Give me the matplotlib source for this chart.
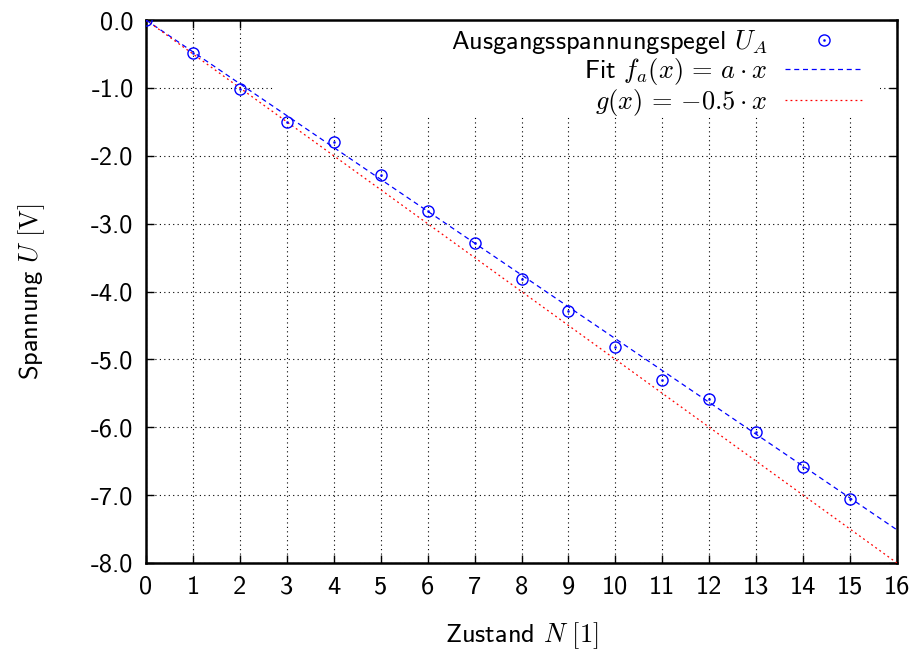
import numpy as np
import matplotlib
matplotlib.use("Agg")
import matplotlib.pyplot as plt
from matplotlib.patches import Rectangle

plt.rcParams['font.family'] = ['cmss10', 'DejaVu Sans']
plt.rcParams['mathtext.fontset'] = 'cm'
plt.rcParams['axes.unicode_minus'] = False
plt.rcParams['axes.formatter.use_mathtext'] = True

# Data
zustand = [0, 1, 2, 3, 4, 5, 6, 7, 8, 9, 10, 11, 12, 13, 14, 15]
spannung = [0.0, -0.49, -1.02, -1.50, -1.80, -2.28, -2.81, -3.28, -3.81,
            -4.29, -4.82, -5.30, -5.58, -6.07, -6.58, -7.05]
fit_a = -0.4695
g_slope = -0.5
x_range = [0, 16]
x_ticks = list(range(0, 17))
y_ticks = [0, -1, -2, -3, -4, -5, -6, -7, -8]
y_ticklabels = ["0.0", "-1.0", "-2.0", "-3.0", "-4.0", "-5.0", "-6.0", "-7.0", "-8.0"]

fs = 19
fig = plt.figure(figsize=(9.14, 6.5), dpi=100)
ax = fig.add_axes([146/914, 1-563/650, 751/914, 543/650])

xr = np.array(x_range, dtype=float)
blue = '#0000ff'
red = '#ff0000'

pts_o, = ax.plot(zustand, spannung, linestyle='none', marker='o', ms=8,
                 mfc='none', mec=blue, mew=1.0, zorder=4)
pts_d, = ax.plot(zustand, spannung, linestyle='none', marker='o', ms=1.5,
                 mfc=blue, mec=blue, mew=0.3, zorder=4)
fit_line, = ax.plot(xr, fit_a * xr, color=blue, lw=0.9, dashes=(4, 3), zorder=3)
g_line, = ax.plot(xr, g_slope * xr, color=red, lw=0.9, dashes=(1.5, 2.5), zorder=3)

ax.set_xlim(0, 16)
ax.set_ylim(-8, 0)
ax.set_xticks(x_ticks)
ax.set_xticklabels([str(t) for t in x_ticks])
ax.set_yticks(y_ticks)
ax.set_yticklabels(y_ticklabels)
ax.tick_params(direction='in', length=6, width=1.0, top=True, right=True,
               labelsize=fs, colors='black')
ax.tick_params(axis='x', pad=9)
ax.tick_params(axis='y', pad=9)
for s in ax.spines.values():
    s.set_linewidth(1.8)

ax.grid(True, color='black', linestyle=(0, (1, 3)), linewidth=0.8)
ax.set_axisbelow(True)

# key background box
ax.add_patch(Rectangle(((275-146)/751, (563-116)/543), (880-275)/751, 116/543 + 0.01,
                       transform=ax.transAxes, facecolor='white', edgecolor='none',
                       zorder=1, clip_on=False))

ax.set_xlabel(r"Zustand $N\ [1]$", fontsize=fs, labelpad=16)
ax.set_ylabel(r"Spannung $U\ [\mathrm{V}]$", fontsize=fs, labelpad=32)

leg = ax.legend([(pts_o, pts_d), fit_line, g_line],
                [r"Ausgangsspannungspegel $U_A$", r"Fit $f_a(x)\,=\,a\cdot x$",
                 r"$g(x)\,=\,{-}0.5\cdot x$"],
                loc='upper right', bbox_to_anchor=((862-146)/751, (563-28)/543),
                borderaxespad=0, borderpad=0, frameon=False, markerfirst=False,
                handlelength=2.9, handletextpad=0.68, labelspacing=0.0,
                fontsize=fs, numpoints=1)
leg.set_zorder(5)

fig.savefig("out.png", dpi=100)
